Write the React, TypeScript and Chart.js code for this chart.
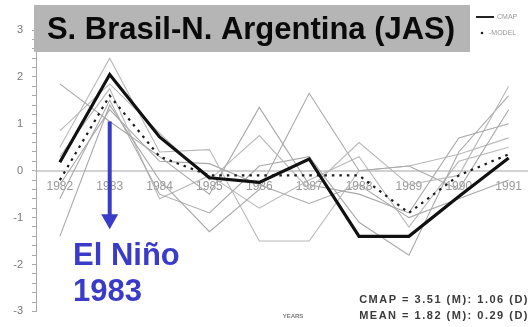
import React, { useEffect, useRef } from "react";
import { Chart, registerables } from "chart.js";

Chart.register(...registerables);

const years = [1982, 1983, 1984, 1985, 1986, 1987, 1988, 1989, 1990, 1991];
const cmap = [0.18, 2.05, 0.72, -0.15, -0.25, 0.25, -1.4, -1.4, -0.55, 0.27];
const modelMean = [-0.2, 1.6, 0.3, -0.1, -0.1, -0.1, -0.1, -0.9, -0.1, 0.35];
const member1 = [1.85, 1.05, 0.3, -0.5, 1.35, -0.3, -0.5, -0.9, 0.7, 1.0];
const member2 = [0.85, 1.85, 0.8, -0.2, 0.75, -0.4, 0.6, -0.3, -0.1, 1.8];
const member3 = [-1.4, 1.4, -0.2, -1.3, -0.4, 1.65, 0.0, 0.1, -0.4, 1.3];
const member4 = [0.5, 2.4, 0.4, 0.45, -1.5, -1.5, 0.0, 0.1, 0.35, 0.7];
const member5 = [-0.6, 1.5, -0.5, -0.9, 0.1, 0.3, -1.1, -1.8, 0.4, 1.6];
const member6 = [0.3, 1.75, -0.6, -0.1, -0.8, -0.2, 0.3, -1.2, 0.2, 0.5];
const member7 = [-0.3, 1.3, 0.2, 0.15, -0.3, -0.7, -0.3, -1.0, -0.6, -0.2];
const members = [member1, member2, member3, member4, member5, member6, member7];
const yLabelTicks = [-3, -2, -1, 0, 1, 2, 3];

const titleText = "S. Brasil-N. Argentina (JAS)";
const legendCmap = "CMAP";
const legendModel = "-MODEL";
const ninoLine1 = "El Niño";
const ninoLine2 = "1983";
const ninoYear = 1983;
const arrowFrom = 1.05;
const arrowTo = -1.25;
const statsCmap = "CMAP = 3.51 (M): 1.06 (D)";
const statsMean = "MEAN = 1.82 (M): 0.29 (D)";
const axisTitle = "YEARS";

const FONT = "'Liberation Sans', Arial, sans-serif";
const BLUE = "#3b3bc9";

const toPts = (arr: number[]) => arr.map((v, i) => ({ x: years[i], y: v }));

const overlay = {
  id: "overlay",
  afterDraw(chart: any) {
    const ctx = chart.ctx as CanvasRenderingContext2D;
    const xs = chart.scales.x;
    const ys = chart.scales.y;
    ctx.save();

    // Title box
    ctx.fillStyle = "#b5b5b5";
    ctx.fillRect(34, 5, 436, 47);
    ctx.fillStyle = "#0a0a0a";
    ctx.font = `bold 31px ${FONT}`;
    ctx.textAlign = "center";
    ctx.textBaseline = "middle";
    ctx.fillText(titleText, 251, 30);

    // Legend
    ctx.strokeStyle = "#222";
    ctx.lineWidth = 2;
    ctx.beginPath();
    ctx.moveTo(476, 17);
    ctx.lineTo(494, 17);
    ctx.stroke();
    ctx.fillStyle = "#222";
    ctx.beginPath();
    ctx.arc(482, 33, 1.3, 0, Math.PI * 2);
    ctx.fill();
    ctx.fillStyle = "#9a9a9a";
    ctx.font = `7px ${FONT}`;
    ctx.textAlign = "left";
    ctx.fillText(legendCmap, 497, 17);
    ctx.fillText(legendModel, 489, 33);

    // Arrow
    const ax = xs.getPixelForValue(ninoYear);
    const y1 = ys.getPixelForValue(arrowFrom);
    const y2 = ys.getPixelForValue(arrowTo);
    ctx.strokeStyle = BLUE;
    ctx.lineWidth = 4;
    ctx.beginPath();
    ctx.moveTo(ax, y1);
    ctx.lineTo(ax, y2 - 12);
    ctx.stroke();
    ctx.fillStyle = BLUE;
    ctx.beginPath();
    ctx.moveTo(ax - 8.5, y2 - 15);
    ctx.lineTo(ax + 8.5, y2 - 15);
    ctx.lineTo(ax, y2);
    ctx.closePath();
    ctx.fill();

    ctx.font = `bold 31px ${FONT}`;
    ctx.textAlign = "left";
    ctx.textBaseline = "middle";
    ctx.fillText(ninoLine1, 73, 256);
    ctx.fillText(ninoLine2, 73, 292);

    // Stats
    ctx.fillStyle = "#3a3a3a";
    ctx.font = `bold 11px ${FONT}`;
    ctx.textAlign = "right";
    (ctx as any).letterSpacing = "1.5px";
    ctx.fillText(statsCmap, 529, 300);
    ctx.fillText(statsMean, 529, 316);
    (ctx as any).letterSpacing = "0px";

    ctx.fillStyle = "#777";
    ctx.font = `bold 6px ${FONT}`;
    ctx.textAlign = "center";
    ctx.fillText(axisTitle, 293, 316);

    ctx.restore();
  },
};

export default function App() {
  const ref = useRef<HTMLCanvasElement | null>(null);
  useEffect(() => {
    if (!ref.current) return;
    const datasets: any[] = [
      {
        label: "CMAP",
        data: toPts(cmap),
        borderColor: "#111",
        borderWidth: 3.2,
        pointRadius: 0,
        tension: 0,
      },
      {
        label: "MODEL",
        data: toPts(modelMean),
        borderColor: "#1a1a1a",
        borderWidth: 2.2,
        borderDash: [2.5, 5],
        pointRadius: 0,
        tension: 0,
      },
      ...members.map((m, i) => ({
        label: "member" + (i + 1),
        data: toPts(m),
        borderColor: i % 2 === 0 ? "#a8a8a8" : "#b8b8b8",
        borderWidth: 1.1,
        pointRadius: 0,
        tension: 0,
      })),
    ];
    const chart = new Chart(ref.current, {
      type: "line",
      data: { datasets },
      options: {
        animation: false,
        responsive: false,
        devicePixelRatio: 1,
        layout: { padding: { top: 30, bottom: 14, left: 0, right: 0 } },
        plugins: { legend: { display: false }, tooltip: { enabled: false } },
        scales: {
          x: {
            type: "linear",
            position: { y: 0 } as any,
            min: 1981.522,
            max: 1991.378,
            afterBuildTicks: (s: any) => {
              s.ticks = years.map((v) => ({ value: v }));
            },
            ticks: {
              callback: (v: any) => String(v),
              color: "#999",
              font: { family: FONT, size: 12 },
              padding: 9,
              maxRotation: 0,
              autoSkip: false,
            },
            grid: { display: false, drawTicks: false },
            border: { display: true, color: "#d2d2d2", width: 2 },
          },
          y: {
            type: "linear",
            min: -3,
            max: 3,
            afterFit: (s: any) => {
              s.width = 36;
            },
            afterBuildTicks: (s: any) => {
              const t: any[] = [];
              for (let i = -15; i <= 15; i++) t.push({ value: i / 5 });
              s.ticks = t;
            },
            ticks: {
              autoSkip: false,
              callback: (v: any) => {
                const r = Math.round(v);
                return Math.abs(v - r) < 1e-6 && yLabelTicks.includes(r) ? String(r) : "";
              },
              color: "#777",
              font: { family: FONT, size: 11 },
              padding: 9,
            },
            grid: { drawOnChartArea: false, drawTicks: true, tickLength: 4, color: "#aaa" },
            border: { display: true, color: "#aaa", width: 1 },
          },
        },
      },
      plugins: [overlay],
    });
    return () => chart.destroy();
  }, []);
  return (
    <div style={{ position: "absolute", left: 0, top: 0, width: 531, height: 327, background: "#fff" }}>
      <canvas ref={ref} width={531} height={327} style={{ display: "block" }} />
    </div>
  );
}
